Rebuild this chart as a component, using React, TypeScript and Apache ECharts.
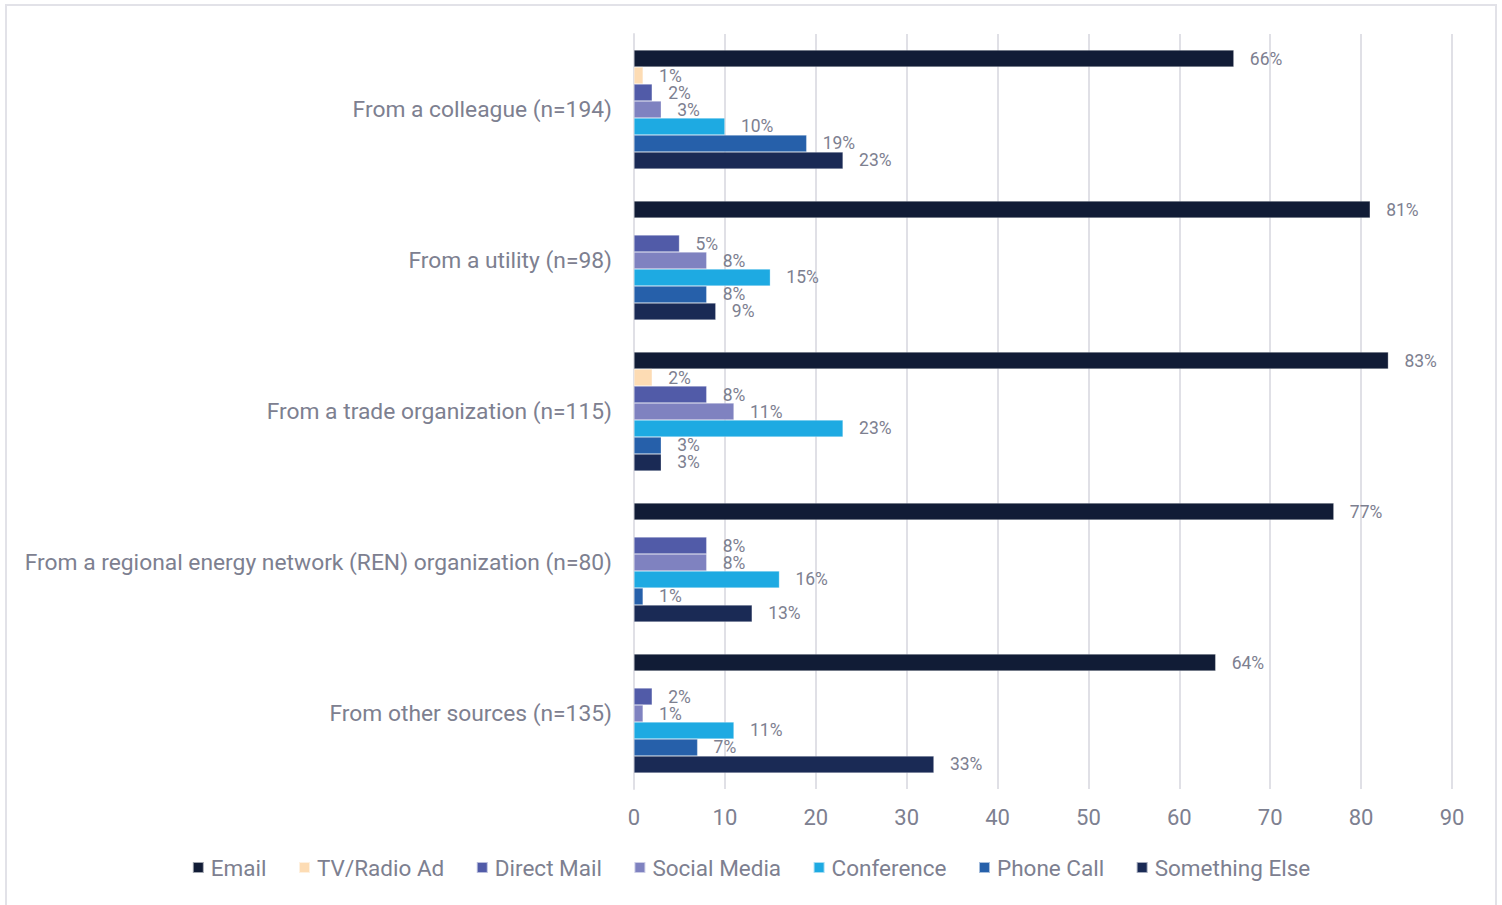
import React, { useEffect, useRef } from "react";
import * as echarts from "echarts";

const categories = [
  "From a colleague (n=194)",
  "From a utility (n=98)",
  "From a trade organization (n=115)",
  "From a regional energy network (REN) organization (n=80)",
  "From other sources (n=135)",
];

const seriesNames = [
  "Email",
  "TV/Radio Ad",
  "Direct Mail",
  "Social Media",
  "Conference",
  "Phone Call",
  "Something Else",
];

const emailValues = [66, 81, 83, 77, 64];
const tvRadioValues: (number | string)[] = [1, "-", 2, "-", "-"];
const directMailValues = [2, 5, 8, 8, 2];
const socialMediaValues = [3, 8, 11, 8, 1];
const conferenceValues = [10, 15, 23, 16, 11];
const phoneCallValues = [19, 8, 3, 1, 7];
const somethingElseValues = [23, 9, 3, 13, 33];

const colors = ["#111c36", "#fddcb4", "#515ba8", "#7f82c0", "#1eaae2", "#2660aa", "#1a2a55"];

const xTicks = { min: 0, max: 90, interval: 10 };

const FONT = "Roboto, 'Liberation Sans', sans-serif";
const GRAY = "#7d8090";

export default function App() {
  const ref = useRef<HTMLDivElement>(null);
  useEffect(() => {
    if (!ref.current) return;
    const chart = echarts.init(ref.current, null, { renderer: "svg" });
    const allValues = [
      emailValues,
      tvRadioValues,
      directMailValues,
      socialMediaValues,
      conferenceValues,
      phoneCallValues,
      somethingElseValues,
    ];
    chart.setOption({
      animation: false,
      backgroundColor: "#ffffff",
      textStyle: { fontFamily: FONT },
      graphic: [
        {
          type: "rect",
          shape: { x: 6, y: 5, width: 1490, height: 930 },
          style: { fill: "none", stroke: "#e2e2e8", lineWidth: 2 },
          silent: true,
        },
      ],
      grid: { left: 634, right: 50, top: 34, bottom: 116, containLabel: false },
      legend: {
        data: seriesNames,
        bottom: 21,
        left: "center",
        icon: "rect",
        itemWidth: 11,
        itemHeight: 11,
        itemGap: 31.5,
        textStyle: { color: GRAY, fontSize: 22.5, fontFamily: FONT, padding: [0, 0, 0, 2] },
      },
      xAxis: {
        type: "value",
        min: xTicks.min,
        max: xTicks.max,
        interval: xTicks.interval,
        axisLine: { show: false },
        axisTick: { show: false },
        splitLine: { show: true, lineStyle: { color: "#e0e0e6", width: 2 } },
        axisLabel: { color: GRAY, fontSize: 22, margin: 17, fontFamily: FONT },
      },
      yAxis: {
        type: "category",
        data: categories,
        inverse: true,
        axisLine: { show: true, lineStyle: { color: "#e0e0e6", width: 2 } },
        axisTick: { show: false },
        axisLabel: { color: GRAY, fontSize: 22.8, margin: 22, fontFamily: FONT },
      },
      series: seriesNames.map((name, i) => ({
        name,
        type: "bar",
        data: allValues[i],
        barGap: "0%",
        barCategoryGap: "21.2%",
        itemStyle: { color: colors[i], borderColor: "rgba(255,255,255,0.6)", borderWidth: 0.5 },
        label: {
          show: true,
          position: "right",
          distance: 16,
          formatter: "{c}%",
          color: GRAY,
          fontSize: 17.5,
          lineHeight: 15,
          fontFamily: FONT,
        },
      })),
    });
    return () => chart.dispose();
  }, []);
  return (
    <div
      ref={ref}
      style={{ position: "absolute", left: 0, top: 0, width: 1502, height: 905 }}
    />
  );
}
